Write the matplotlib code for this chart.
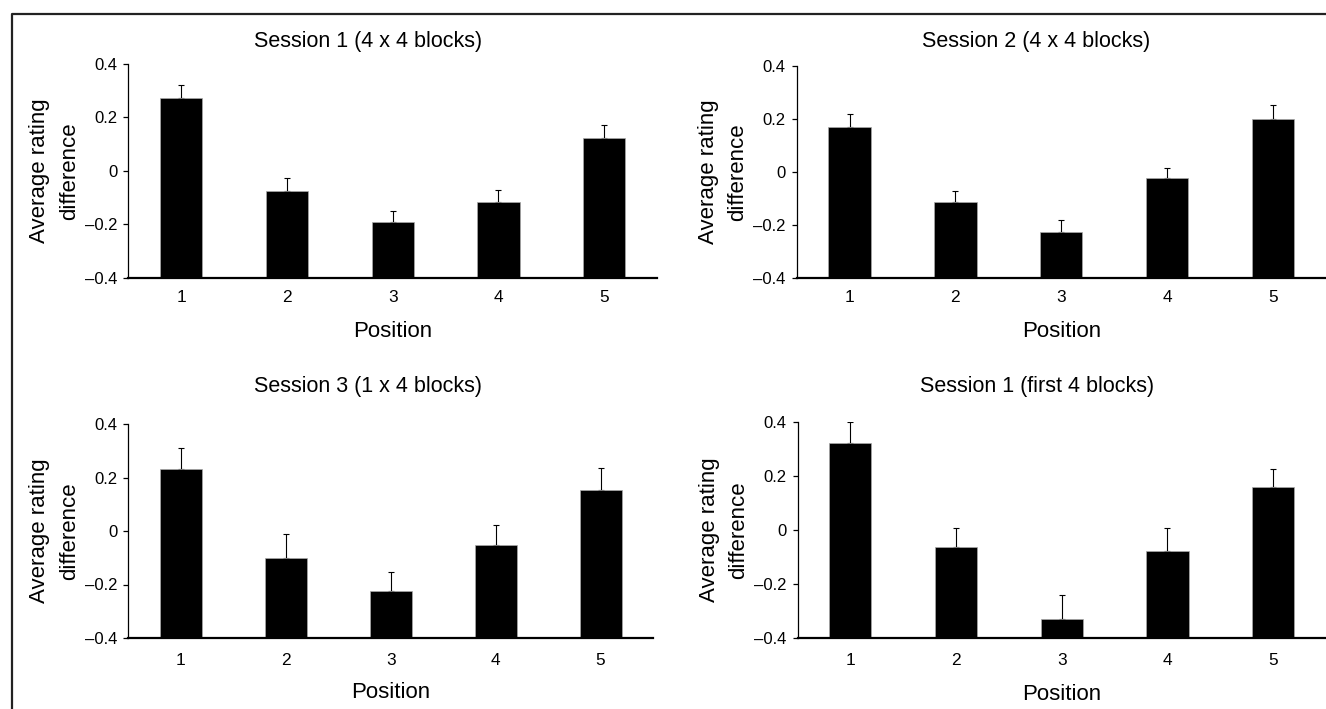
import matplotlib
matplotlib.use("Agg")
import matplotlib.pyplot as plt
from matplotlib.lines import Line2D
from matplotlib.ticker import FuncFormatter

plt.rcParams['font.family'] = ['Liberation Sans', 'DejaVu Sans']

positions = [1, 2, 3, 4, 5]
titles = ["Session 1 (4 x 4 blocks)", "Session 2 (4 x 4 blocks)",
          "Session 3 (1 x 4 blocks)", "Session 1 (first 4 blocks)"]
means_s1 = [0.271, -0.076, -0.192, -0.116, 0.122]
errs_s1 = [0.049, 0.050, 0.040, 0.044, 0.048]
means_s2 = [0.169, -0.114, -0.228, -0.024, 0.197]
errs_s2 = [0.049, 0.040, 0.044, 0.038, 0.053]
means_s3 = [0.231, -0.101, -0.223, -0.052, 0.153]
errs_s3 = [0.079, 0.089, 0.070, 0.076, 0.081]
means_s1first = [0.323, -0.062, -0.330, -0.079, 0.159]
errs_s1first = [0.079, 0.071, 0.089, 0.088, 0.069]
yticks = [-0.4, -0.2, 0, 0.2, 0.4]
xlabel = "Position"
ylabel = "Average rating\ndifference"

W, H = 1326, 709
fig = plt.figure(figsize=(W / 100, H / 100), dpi=100)


def fx(px):
    return px / W


def fy(py):
    return 1 - py / H


# pixel layout: left, right, top, bottom, title baseline y, xlabel baseline y, xtick pad
panels = [
    (128.3, 657.0, 64.0, 277.7, 46.7, 337.3, 8.5, means_s1, errs_s1),
    (796.6, 1326.0, 65.7, 277.7, 46.7, 337.3, 8.5, means_s2, errs_s2),
    (128.3, 653.0, 424.0, 638.0, 392.0, 698.3, 10.5, means_s3, errs_s3),
    (797.5, 1326.0, 422.3, 638.0, 392.0, 700.0, 10.5, means_s1first, errs_s1first),
]

fmt = FuncFormatter(lambda v, p: ("\u2013" if v < -1e-9 else "") + ("%g" % abs(round(v, 1))))

for i, (l, r, t, b, tty, xly, xpad, m, e) in enumerate(panels):
    ax = fig.add_axes([fx(l), fy(b), fx(r) - fx(l), fy(t) - fy(b)])
    ax.bar(positions, [v + 0.4 for v in m], bottom=-0.4, width=0.4,
           color='black', edgecolor='#aaaaaa', linewidth=0.5, zorder=2)
    ax.errorbar(positions, m, yerr=[[0] * 5, e], fmt='none', ecolor='black',
                elinewidth=0.8, capsize=2.4, capthick=0.8, zorder=1)
    ax.set_xlim(0.5, 5.5)
    ax.set_ylim(-0.4, 0.4)
    ax.set_yticks(yticks)
    ax.yaxis.set_major_formatter(fmt)
    ax.set_xticks(positions)
    ax.set_xticklabels([str(p) for p in positions])
    for s in ['top', 'right']:
        ax.spines[s].set_visible(False)
    ax.spines['bottom'].set_linewidth(1.6)
    ax.spines['left'].set_linewidth(0.9)
    ax.tick_params(axis='y', direction='out', length=3.6, width=0.9, labelsize=12, pad=4.2)
    ax.tick_params(axis='x', length=0, labelsize=12.4, pad=xpad)
    # titles
    fig.text(fx(l + 239.5), fy(tty), titles[i], ha='center', va='baseline', fontsize=15.5)
    # x label
    fig.text(fx((l + r) / 2), fy(xly), xlabel, ha='center', va='baseline', fontsize=16)
    # y label
    fig.text(fx(l - 73.5), fy((t + b) / 2), ylabel, ha='center', va='center',
             rotation=90, fontsize=16, linespacing=1.55, multialignment='center')

# outer frame (left and top)
fig.add_artist(Line2D([fx(12), fx(12), 1], [0, fy(14), fy(14)], color='#222222',
                      linewidth=1.6, transform=fig.transFigure))

fig.savefig("out.png", dpi=100)
